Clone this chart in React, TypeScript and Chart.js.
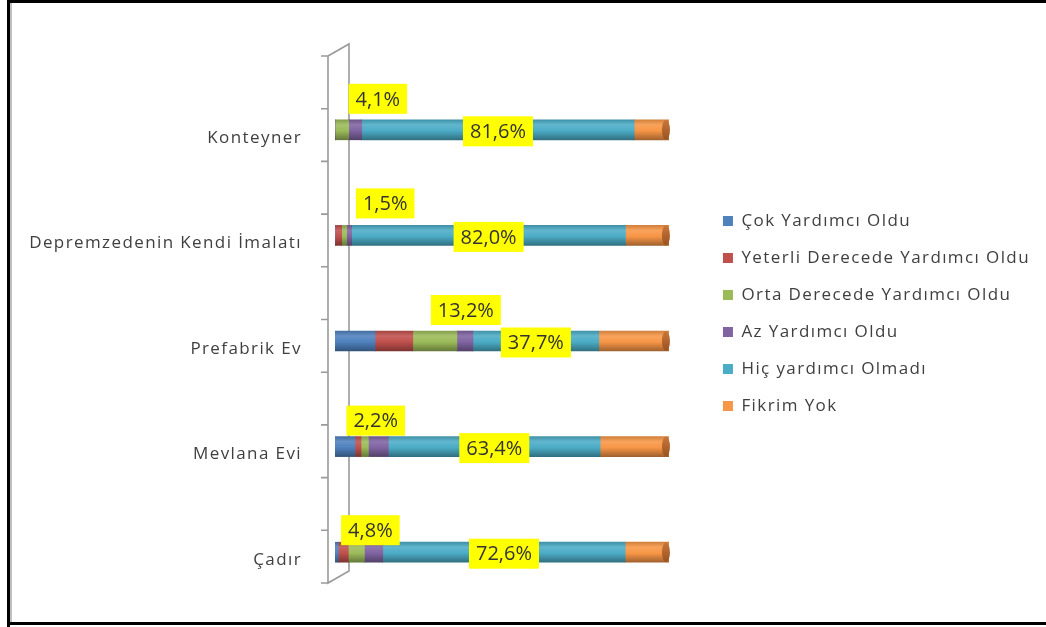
import React, { useEffect, useRef } from 'react';
import { Chart, registerables } from 'chart.js';

Chart.register(...registerables);

const categories = ['Konteyner', 'Depremzedenin Kendi İmalatı', 'Prefabrik Ev', 'Mevlana Evi', 'Çadır'];
const seriesNames = [
  'Çok Yardımcı Oldu',
  'Yeterli Derecede Yardımcı Oldu',
  'Orta Derecede Yardımcı Oldu',
  'Az Yardımcı Oldu',
  'Hiç yardımcı Olmadı',
  'Fikrim Yok',
];
const cokYardimci = [0, 0, 12.0, 6.0, 1.0];
const yeterliDerecede = [0, 2.0, 11.3, 1.8, 3.0];
const ortaDerecede = [4.1, 1.5, 13.2, 2.2, 4.8];
const azYardimci = [3.9, 1.5, 4.8, 6.0, 5.5];
const hicYardimci = [81.6, 82.0, 37.7, 63.4, 72.6];
const fikrimYok = [10.4, 13.0, 21.0, 20.6, 13.1];

const seriesValues = [cokYardimci, yeterliDerecede, ortaDerecede, azYardimci, hicYardimci, fikrimYok];
const seriesColors = ['#4F81BD', '#C0504D', '#9BBB59', '#8064A2', '#4BACC6', '#F79646'];

// label nudges (relative to the segment centre) for the "Orta Derecede" labels
const ortaLabelNudge = [
  [36, -31],
  [41, -32],
  [31, -31],
  [11, -26],
  [14, -22],
];

const FONT = "'Open Sans', 'DejaVu Sans', sans-serif";
const TEXT = '#3F3F3F';
const SPACING = '1.4px';

function shade(hex: string, f: number) {
  const n = parseInt(hex.slice(1), 16);
  let r = (n >> 16) & 255, g = (n >> 8) & 255, b = n & 255;
  const t = f < 0 ? 0 : 255;
  const p = Math.abs(f);
  r = Math.round((t - r) * p + r);
  g = Math.round((t - g) * p + g);
  b = Math.round((t - b) * p + b);
  return `rgb(${r},${g},${b})`;
}

const fmt = (v: number) => v.toFixed(1).replace('.', ',') + '%';

const spacingPlugin = {
  id: 'letterSpacing',
  beforeUpdate(chart: any) {
    chart.ctx.letterSpacing = SPACING;
  },
  beforeLayout(chart: any) {
    chart.ctx.letterSpacing = SPACING;
  },
  beforeDraw(chart: any) {
    chart.ctx.letterSpacing = SPACING;
  },
};

const framePlugin = {
  id: 'frame',
  afterDraw(chart: any) {
    const ctx = chart.ctx;
    ctx.save();
    ctx.fillStyle = '#000';
    ctx.fillRect(7, 0, 1046, 3);
    ctx.fillRect(7, 0, 3, 627);
    ctx.fillRect(7, 622, 1046, 3);
    ctx.fillStyle = '#BFBFBF';
    ctx.fillRect(10, 3, 2, 619);
    ctx.restore();
  },
};

const wallPlugin = {
  id: 'wall',
  beforeDatasetsDraw(chart: any) {
    const { ctx, chartArea } = chart;
    const fx = chartArea.left - 7;
    const bx = chartArea.left + 14;
    const fTop = chartArea.top - 21;
    const fBot = chartArea.bottom - 22;
    const dy = -12;
    ctx.save();
    ctx.strokeStyle = '#9A9A9A';
    ctx.lineWidth = 1.6;
    ctx.beginPath();
    ctx.moveTo(fx, fTop);
    ctx.lineTo(fx, fBot);
    ctx.lineTo(bx, fBot + dy);
    ctx.lineTo(bx, fTop + dy);
    ctx.lineTo(fx, fTop);
    ctx.stroke();
    ctx.beginPath();
    for (let i = 0; i <= 10; i++) {
      const y = fTop + ((fBot - fTop) * i) / 10;
      ctx.moveTo(fx - 7, y);
      ctx.lineTo(fx, y);
    }
    ctx.stroke();
    ctx.restore();
  },
};

const capPlugin = {
  id: 'caps',
  afterDatasetsDraw(chart: any) {
    const ctx = chart.ctx;
    const meta = chart.getDatasetMeta(seriesValues.length - 1);
    ctx.save();
    meta.data.forEach((bar: any) => {
      const { x, y, height } = bar.getProps(['x', 'y', 'height'], true);
      const g = ctx.createLinearGradient(0, y - height / 2, 0, y + height / 2);
      g.addColorStop(0, '#C9773A');
      g.addColorStop(1, '#9A5220');
      ctx.fillStyle = g;
      ctx.beginPath();
      ctx.ellipse(x - 3, y, 4, height / 2, 0, 0, Math.PI * 2);
      ctx.fill();
    });
    ctx.restore();
  },
};

const labelPlugin = {
  id: 'valueLabels',
  afterDatasetsDraw(chart: any) {
    const ctx = chart.ctx;
    ctx.save();
    ctx.letterSpacing = '0px';
    ctx.font = `20px ${FONT}`;
    ctx.textAlign = 'center';
    ctx.textBaseline = 'middle';
    const drawBox = (text: string, cx: number, cy: number) => {
      const w = ctx.measureText(text).width + 14;
      const h = 30;
      ctx.fillStyle = '#FFFF00';
      ctx.fillRect(cx - w / 2, cy - h / 2, w, h);
      ctx.fillStyle = '#333333';
      ctx.fillText(text, cx, cy + 1);
    };
    const hicMeta = chart.getDatasetMeta(4);
    hicMeta.data.forEach((bar: any, i: number) => {
      const { x, base, y } = bar.getProps(['x', 'base', 'y'], true);
      drawBox(fmt(hicYardimci[i]), (x + base) / 2, y + 1.5);
    });
    const ortaMeta = chart.getDatasetMeta(2);
    ortaMeta.data.forEach((bar: any, i: number) => {
      const { x, base, y } = bar.getProps(['x', 'base', 'y'], true);
      drawBox(fmt(ortaDerecede[i]), (x + base) / 2 + ortaLabelNudge[i][0], y + ortaLabelNudge[i][1]);
    });
    ctx.restore();
  },
};

export default function App() {
  const canvasRef = useRef<HTMLCanvasElement | null>(null);

  useEffect(() => {
    if (!canvasRef.current) return;
    const datasets = seriesNames.map((name, si) => ({
      label: name,
      data: seriesValues[si],
      barThickness: 20,
      borderWidth: 0,
      backgroundColor: (c: any) => {
        const base = seriesColors[si];
        const chart = c.chart;
        if (!chart.chartArea || c.dataIndex === undefined) return base;
        const y = chart.scales.y.getPixelForValue(c.dataIndex);
        const g = chart.ctx.createLinearGradient(0, y - 10, 0, y + 10);
        g.addColorStop(0, shade(base, -0.15));
        g.addColorStop(0.25, shade(base, 0.12));
        g.addColorStop(0.55, base);
        g.addColorStop(1, shade(base, -0.35));
        return g;
      },
    }));

    const hiddenAxis = (size: number, horizontal: boolean, position: string) => ({
      type: 'linear',
      position,
      display: true,
      grid: { display: false },
      border: { display: false },
      ticks: { display: false },
      afterFit: (s: any) => {
        if (horizontal) s.height = size;
        else s.width = size;
        s.paddingTop = 0;
        s.paddingBottom = 0;
        s.paddingLeft = 0;
        s.paddingRight = 0;
      },
    });

    const chart = new Chart(canvasRef.current, {
      type: 'bar',
      data: { labels: categories, datasets },
      options: {
        indexAxis: 'y',
        animation: false,
        responsive: true,
        maintainAspectRatio: false,
        layout: { padding: { left: 0, right: 6, top: 0, bottom: 0 } },
        scales: {
          x: { type: 'linear', stacked: true, min: 0, max: 100, display: false },
          y: {
            type: 'category',
            stacked: true,
            position: 'left',
            grid: { display: false },
            border: { display: false },
            ticks: { padding: 25, color: TEXT, font: { family: FONT, size: 17 }, labelOffset: 8 },
            afterFit: (s: any) => {
              s.width = 335;
              s.paddingTop = 0;
              s.paddingBottom = 0;
            },
          },
          yRight: hiddenAxis(34, false, 'right'),
          xTop: hiddenAxis(77, true, 'top'),
          xBottom: hiddenAxis(22, true, 'bottom'),
        } as any,
        plugins: {
          legend: {
            position: 'right',
            align: 'center',
            maxWidth: 500,
            labels: {
              boxWidth: 10,
              boxHeight: 10,
              padding: 20,
              color: TEXT,
              font: { family: FONT, size: 17 },
              generateLabels: () =>
                seriesNames.map((n, i) => ({
                  text: n,
                  fillStyle: seriesColors[i],
                  strokeStyle: seriesColors[i],
                  lineWidth: 0,
                  hidden: false,
                  datasetIndex: i,
                  fontColor: TEXT,
                })),
            },
          },
          tooltip: { enabled: false },
        },
      } as any,
      plugins: [spacingPlugin, framePlugin, wallPlugin, capPlugin, labelPlugin],
    });
    return () => chart.destroy();
  }, []);

  return (
    <div style={{ position: 'fixed', left: 0, top: 0, width: 1046, height: 627, background: '#fff' }}>
      <canvas ref={canvasRef} />
    </div>
  );
}
